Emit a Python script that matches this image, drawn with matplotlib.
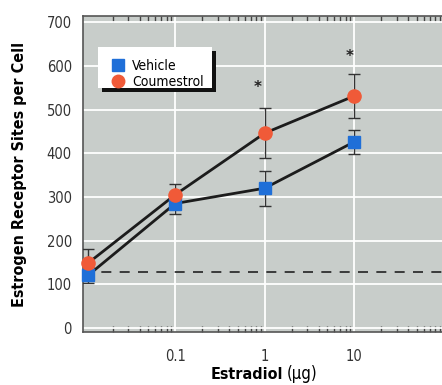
import matplotlib
matplotlib.use("Agg")
from matplotlib import pyplot as plt
from matplotlib.lines import Line2D
from matplotlib.patches import Rectangle

# data
dose = [0.0107, 0.1, 1, 10]
vehicle = [121, 285, 320, 426]
vehicle_err = [18, 25, 40, 28]
coumestrol = [149, 305, 446, 531]
coumestrol_err = [32, 25, 58, 50]
baseline = 128
star_x = [0.84, 8.8]
star_y = [550, 622]
ytick_vals = [0, 100, 200, 300, 400, 500, 600, 700]
xtick_vals = [0.1, 1, 10]
xtick_labels = ["0.1", "1", "10"]

blue = "#1f6fd8"
orange = "#f05a38"
bg = "#c8cdca"
narrow = ["DejaVu Sans"]

fig = plt.figure(figsize=(4.42, 3.85), dpi=100)
ax = fig.add_axes([83/442, 53/385, 378.6/442, 316/385])
ax.set_facecolor(bg)
ax.set_xscale("log")
ax.set_xlim(10**-2.03, 10**2.2)
ax.set_ylim(-9, 714)

ax.grid(True, which="major", color="white", lw=1.3)
ax.set_axisbelow(True)

ax.axhline(baseline, color="#222", lw=1.2, ls=(0, (6, 5)), zorder=2)

ax.errorbar(dose, vehicle, yerr=vehicle_err, color="#333", lw=1.0, capsize=4,
            capthick=1.0, fmt="none", zorder=3)
ax.errorbar(dose, coumestrol, yerr=coumestrol_err, color="#333", lw=1.0, capsize=4,
            capthick=1.0, fmt="none", zorder=3)
ax.plot(dose, vehicle, color="#1c1c1c", lw=2, zorder=4)
ax.plot(dose, coumestrol, color="#1c1c1c", lw=2, zorder=4)
ax.plot(dose, vehicle, "s", color=blue, ms=9, mec=blue, zorder=5, clip_on=False)
ax.plot(dose, coumestrol, "o", color=orange, ms=9.5, mec=orange, zorder=5, clip_on=False)

for sx, sy in zip(star_x, star_y):
    ax.text(sx, sy, "*", ha="center", va="center", fontsize=11,
            fontweight="bold", color="#222")

ax.set_yticks(ytick_vals)
ax.set_yticklabels([str(v) for v in ytick_vals], family=narrow, stretch="condensed", fontsize=10.5)
ax.set_xticks(xtick_vals)
ax.set_xticklabels(xtick_labels, family=narrow, stretch="condensed", fontsize=10.5)
ax.tick_params(axis="y", length=0, pad=8, colors="#333")
ax.tick_params(axis="x", which="major", length=0, pad=12, colors="#333")
ax.tick_params(axis="x", which="minor", direction="in", length=4, width=1,
               top=True, bottom=True, color="#444")

for s in ["left", "bottom", "top"]:
    ax.spines[s].set_color("#555")
    ax.spines[s].set_linewidth(1.2)
ax.spines["right"].set_visible(False)

ax.set_ylabel("Estrogen Receptor Sites per Cell", family=narrow, stretch="condensed",
              fontsize=11.5, fontweight="bold", labelpad=14)
fig.text(283/442, 0.015, "Estradiol", family=narrow, stretch="condensed", fontsize=11.5,
         fontweight="bold", ha="right", va="baseline")
fig.text(287/442, 0.015, "(\u03bcg)", family=narrow, stretch="condensed", fontsize=12,
         ha="left", va="baseline")

# legend box with solid shadow
lx0, ly0, lw, lh = 98/442, (385-88)/385, 114/442, 41/385
fig.patches.append(Rectangle((lx0 + 4/442, ly0 - 4/385), lw, lh, transform=fig.transFigure,
                             facecolor="#111", edgecolor="none", zorder=5))
fig.patches.append(Rectangle((lx0, ly0), lw, lh, transform=fig.transFigure,
                             facecolor="white", edgecolor="none", zorder=6))
handles = [Line2D([], [], marker="s", ls="none", color=blue, ms=8),
           Line2D([], [], marker="o", ls="none", color=orange, ms=9)]
leg = fig.legend(handles, ["Vehicle", "Coumestrol"], loc="upper left",
                 bbox_to_anchor=(lx0, ly0 + lh), frameon=False,
                 prop={"family": narrow, "stretch": "condensed", "size": 10},
                 handletextpad=0.4, borderpad=0.35, labelspacing=0.15, handlelength=1.2)
leg.set_zorder(7)

fig.savefig("out.png", dpi=100)
